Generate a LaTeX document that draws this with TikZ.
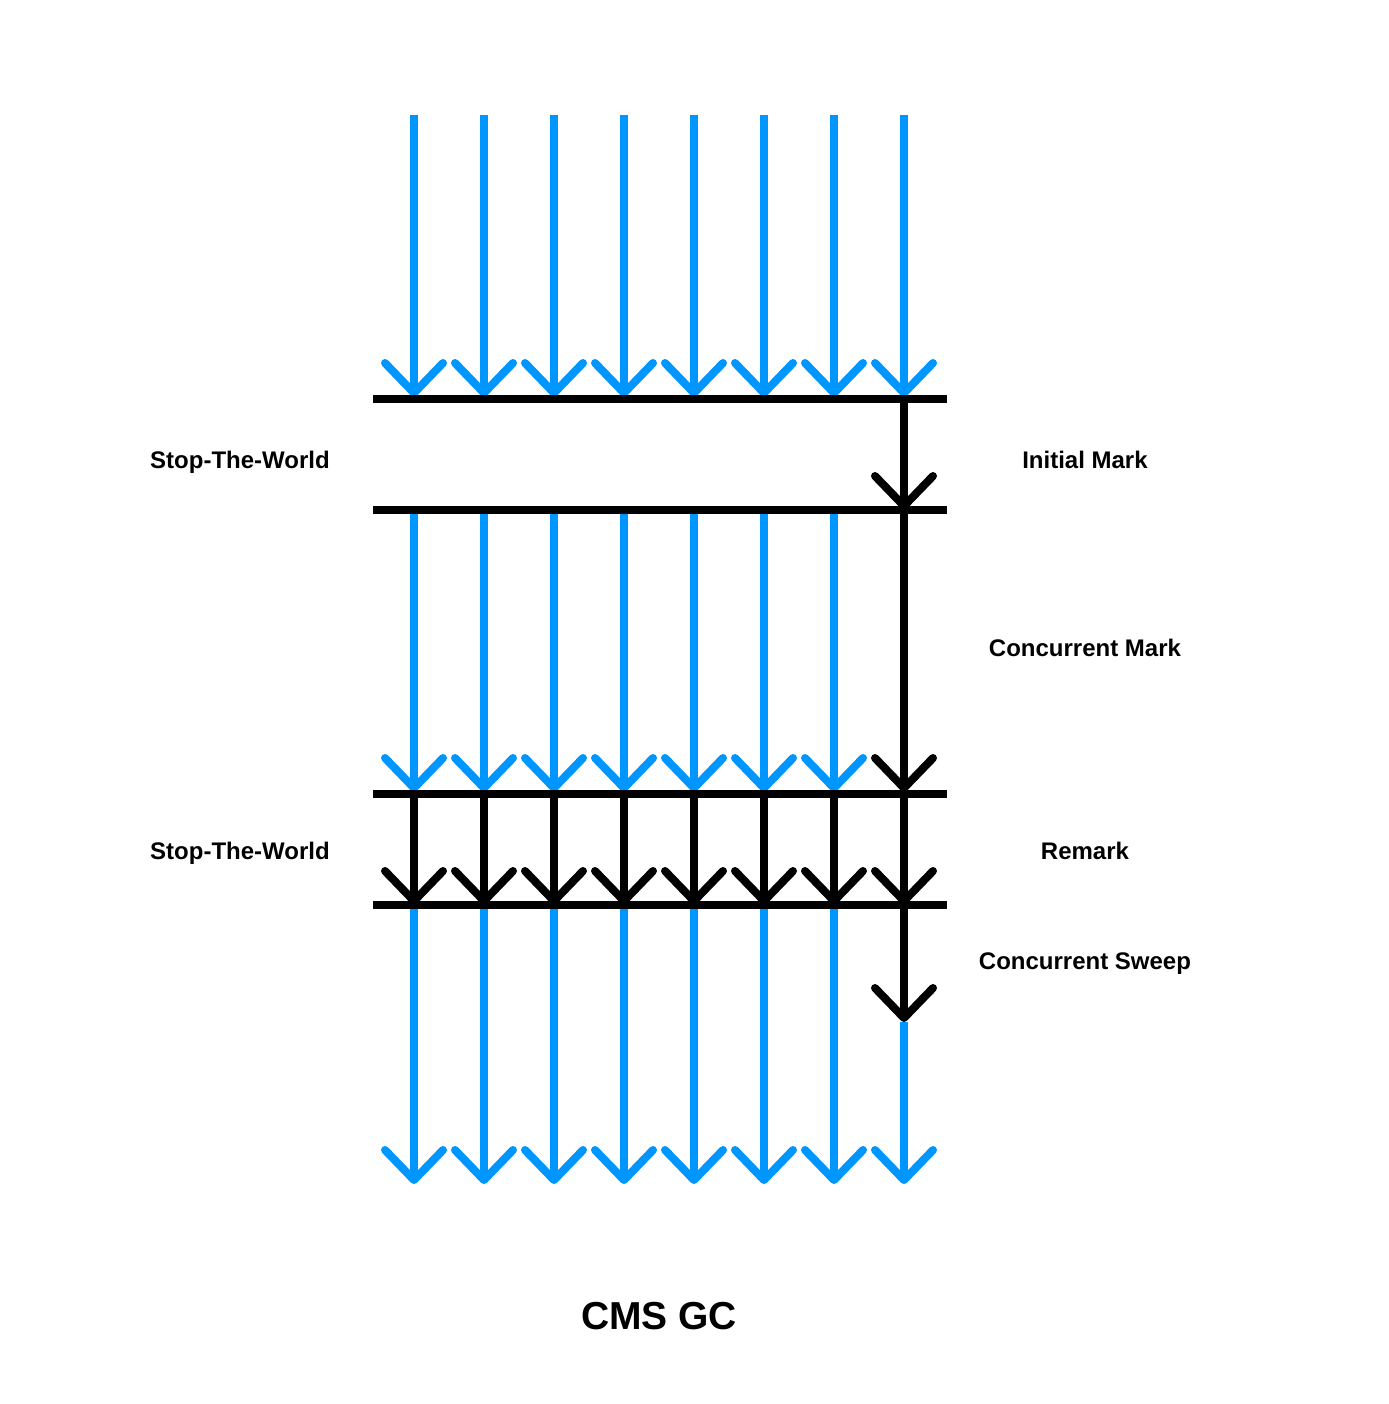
\documentclass[tikz,border=0pt]{standalone}
\usepackage{fontspec}
\setmainfont{Liberation Sans}
\usetikzlibrary{arrows.meta}
\definecolor{threadblue}{RGB}{0,150,255}
\tikzset{
  bar/.style={line width=4pt,black},
  thread/.style={line width=4pt,threadblue,-{Straight Barb[length=15pt,width=29pt,round]}},
  gcthread/.style={line width=4pt,black,-{Straight Barb[length=15pt,width=29pt,round]}},
  phase/.style={font=\bfseries\fontsize{12}{14}\selectfont},
}
\begin{document}
\begin{tikzpicture}[x=0.5pt,y=-0.5pt]
\useasboundingbox (0,0) rectangle (1388,1404);

% points on every thread
\foreach \i in {1,...,8}{
  \pgfmathsetmacro{\x}{414+70*(\i-1)}
  \coordinate (top\i) at (\x,115);
  \coordinate (inA\i) at (\x,397);
  \coordinate (outA\i) at (\x,510);
  \coordinate (inB\i) at (\x,792);
  \coordinate (outB\i) at (\x,794);
  \coordinate (inC\i) at (\x,905);
  \coordinate (outC\i) at (\x,905);
  \coordinate (bot\i) at (\x,1184);
}
\coordinate (gcA) at (904,399);
\coordinate (gcB) at (904,1022);

% application threads
\foreach \i in {1,...,8}{
  \draw[thread] (top\i) -- (inA\i);
}
\foreach \i in {1,...,7}{
  \draw[thread] (outA\i) -- (inB\i);
  \draw[gcthread] (outB\i) -- (inC\i);
  \draw[thread] (outC\i) -- (bot\i);
}

% gc thread
\draw[gcthread] (gcA) -- (outA8);
\draw[gcthread] (outA8) -- (inB8);
\draw[gcthread] (outB8) -- (inC8);
\draw[gcthread] (outC8) -- (gcB);
\draw[thread] (gcB) -- (bot8);

% safepoints
\coordinate (barAl) at (373,399);
\coordinate (barAr) at (947,399);
\coordinate (barBl) at (373,510);
\coordinate (barBr) at (947,510);
\coordinate (barCl) at (373,794);
\coordinate (barCr) at (947,794);
\coordinate (barDl) at (373,905);
\coordinate (barDr) at (947,905);
\draw[bar] (barAl) -- (barAr);
\draw[bar] (barBl) -- (barBr);
\draw[bar] (barCl) -- (barCr);
\draw[bar] (barDl) -- (barDr);

% labels
\node[phase] (stw1) at (240,462) {Stop-The-World};
\node[phase] (stw2) at (240,853) {Stop-The-World};
\node[phase] (initmark) at (1085,460) {Initial Mark};
\node[phase] (concmark) at (1085,648) {Concurrent Mark};
\node[phase] (remark) at (1085,851) {Remark};
\node[phase] (sweep) at (1085,964) {Concurrent Sweep};
\node[font=\bfseries\fontsize{19.5}{23}\selectfont] (title) at (659,1316) {CMS GC};
\end{tikzpicture}
\end{document}
